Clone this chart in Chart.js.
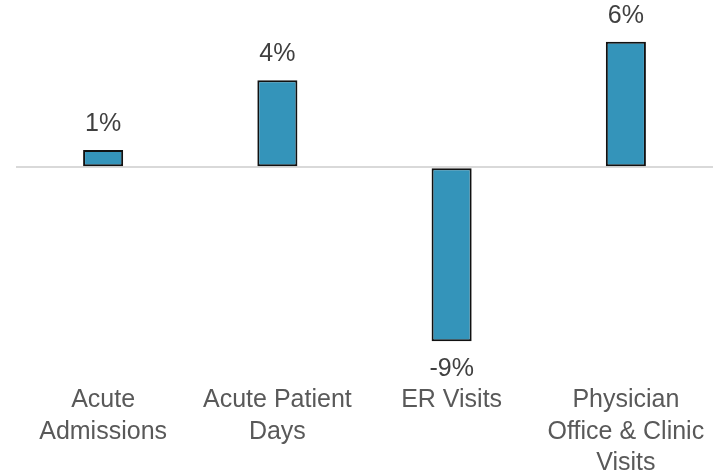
<!DOCTYPE html>
<html>
<head>
<meta charset="utf-8">
<script src="https://cdn.jsdelivr.net/npm/chart.js@4/dist/chart.umd.min.js"></script>
<style>
  html, body { margin: 0; padding: 0; background: #fff; overflow: hidden; }
  #wrap { width: 726px; height: 489px; position: relative; }
</style>
</head>
<body>
<div id="wrap"><canvas id="chart"></canvas></div>
<script>
const categories = [
    ['Acute', 'Admissions'],
    ['Acute Patient', 'Days'],
    ['ER Visits'],
    ['Physician', 'Office & Clinic', 'Visits']
];
const changePct = [0.85, 4.3, -8.6, 6.2];

const FONT = "'Liberation Sans', Arial, sans-serif";

// percent labels above / below each bar
const barLabels = {
    id: 'barLabels',
    afterDatasetsDraw(chart) {
        const ctx = chart.ctx;
        const meta = chart.getDatasetMeta(0);
        ctx.save();
        ctx.font = '25px ' + FONT;
        ctx.fillStyle = '#404040';
        ctx.textAlign = 'center';
        ctx.textBaseline = 'middle';
        meta.data.forEach((bar, i) => {
            const v = changePct[i];
            const y = v >= 0 ? bar.y - 26 : bar.y + 28;
            ctx.fillText(Math.round(v) + '%', bar.x, y);
        });
        ctx.restore();
    }
};

new Chart(document.getElementById('chart'), {
    type: 'bar',
    data: {
        labels: categories,
        datasets: [{
            data: changePct,
            backgroundColor: '#3494BA',
            borderColor: '#111',
            borderWidth: 2,
            borderSkipped: false,
            categoryPercentage: 1,
            barPercentage: 0.23
        }]
    },
    options: {
        responsive: true,
        maintainAspectRatio: false,
        animation: false,
        layout: { padding: { left: 16, right: 13, top: 0, bottom: 0 } },
        plugins: { legend: { display: false }, tooltip: { enabled: false } },
        scales: {
            x: {
                grid: { display: false },
                border: { display: false },
                ticks: {
                    color: '#595959',
                    font: { family: FONT, size: 25, lineHeight: 1.26 },
                    padding: 10,
                    maxRotation: 0,
                    autoSkip: false
                }
            },
            y: {
                min: -9.85,
                max: 8.27,
                afterBuildTicks(axis) { axis.ticks = [{ value: 0 }]; },
                ticks: { display: false },
                border: { display: false },
                grid: { color: '#d9d9d9', lineWidth: 2, drawTicks: false }
            }
        }
    },
    plugins: [barLabels]
});
</script>
</body>
</html>
